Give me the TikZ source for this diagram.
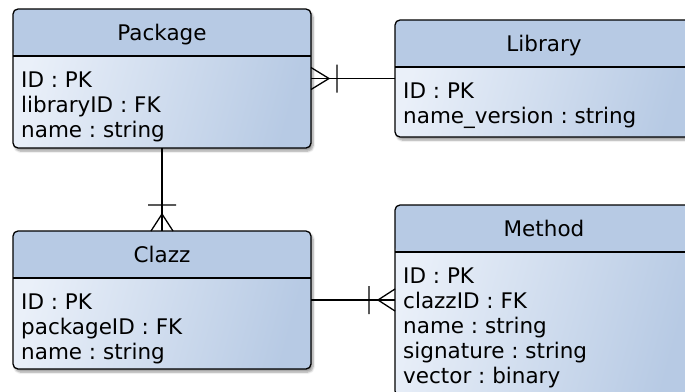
\documentclass[tikz,border=0pt]{standalone}
\usepackage{fontspec}
\setmainfont{DejaVu Sans}
\usetikzlibrary{calc,shadows.blur}
\definecolor{hdr}{RGB}{183,202,228}
\definecolor{bodylight}{RGB}{234,240,249}
\frenchspacing
\begin{document}
\begin{tikzpicture}[x=1pt,y=-1pt,
  font=\fontsize{21.5}{25}\selectfont\frenchspacing,
  conn/.style={line width=1.3pt, draw=black},
  entity/.style={rectangle, rounded corners=5pt, minimum width=298pt,
    inner sep=0pt, outer sep=0pt, draw=black, line width=1.3pt,
    left color=bodylight, right color=hdr, shading angle=75,
    blur shadow={shadow xshift=2pt, shadow yshift=-3pt,
      shadow blur steps=6, shadow opacity=40},
    path picture={
      \fill[hdr] (path picture bounding box.north west) rectangle
        ([yshift=-47pt]path picture bounding box.north east);
      \draw[line width=1.3pt] ([yshift=-47pt]path picture bounding box.north west)
        -- ([yshift=-47pt]path picture bounding box.north east);}},
  ttl/.style={anchor=base, inner sep=0pt},
  row/.style={anchor=base west, inner sep=0pt}]

\useasboundingbox (0,0) rectangle (685,391);
\clip (0,0) rectangle (685,391);

% entity boxes
\node[entity, minimum height=139pt] (pkg) at (162,78.5) {};
\node[entity, minimum height=117pt] (lib) at (544,78.5) {};
\node[entity, minimum height=138pt] (clz) at (162,300) {};
\node[entity, minimum height=191pt] (met) at (544,300.5) {};

% titles
\node[ttl] (pkgT) at ([yshift=-31pt]pkg.north) {Package};
\node[ttl] (libT) at ([yshift=-31pt]lib.north) {Library};
\node[ttl] (clzT) at ([yshift=-31pt]clz.north) {Clazz};
\node[ttl] (metT) at ([yshift=-31pt]met.north) {Method};

% attribute rows
\foreach \t [count=\i] in {ID : PK, libraryID : FK, name : string}
  \node[row] (pkg\i) at ([xshift=8pt,yshift={-78pt-25pt*(\i-1)}]pkg.north west) {\t};
\foreach \t [count=\i] in {ID : PK, name\_version : string}
  \node[row] (lib\i) at ([xshift=8pt,yshift={-78pt-25pt*(\i-1)}]lib.north west) {\t};
\foreach \t [count=\i] in {ID : PK, packageID : FK, name : string}
  \node[row] (clz\i) at ([xshift=8pt,yshift={-78pt-25pt*(\i-1)}]clz.north west) {\t};
\foreach \t [count=\i] in {ID : PK, clazzID : FK, name : string, signature : string, vector : binary}
  \node[row] (met\i) at ([xshift=8pt,yshift={-78pt-25pt*(\i-1)}]met.north west) {\t};

% Package (many) -- Library (one)
\draw[conn] (pkg.east) -- (lib.west);
\draw[conn] ($(pkg.east)+(18,0)$) -- ($(pkg.east)+(0,-11)$)
            ($(pkg.east)+(18,0)$) -- ($(pkg.east)+(0,11)$)
            ($(pkg.east)+(26,-14)$) -- ($(pkg.east)+(26,14)$);

% Package (one) -- Clazz (many)
\draw[conn] (pkg.south) -- (clz.north);
\draw[conn] ($(clz.north)+(0,-17)$) -- ($(clz.north)+(-11,0)$)
            ($(clz.north)+(0,-17)$) -- ($(clz.north)+(11,0)$)
            ($(clz.north)+(-14,-26)$) -- ($(clz.north)+(14,-26)$);

% Clazz (one) -- Method (many)
\coordinate (cm) at (clz.east -| met.west);
\draw[conn] (clz.east) -- (cm);
\draw[conn] ($(cm)+(-17,0)$) -- ($(cm)+(0,-11)$)
            ($(cm)+(-17,0)$) -- ($(cm)+(0,11)$)
            ($(cm)+(-26,-14)$) -- ($(cm)+(-26,14)$);
\end{tikzpicture}
\end{document}
